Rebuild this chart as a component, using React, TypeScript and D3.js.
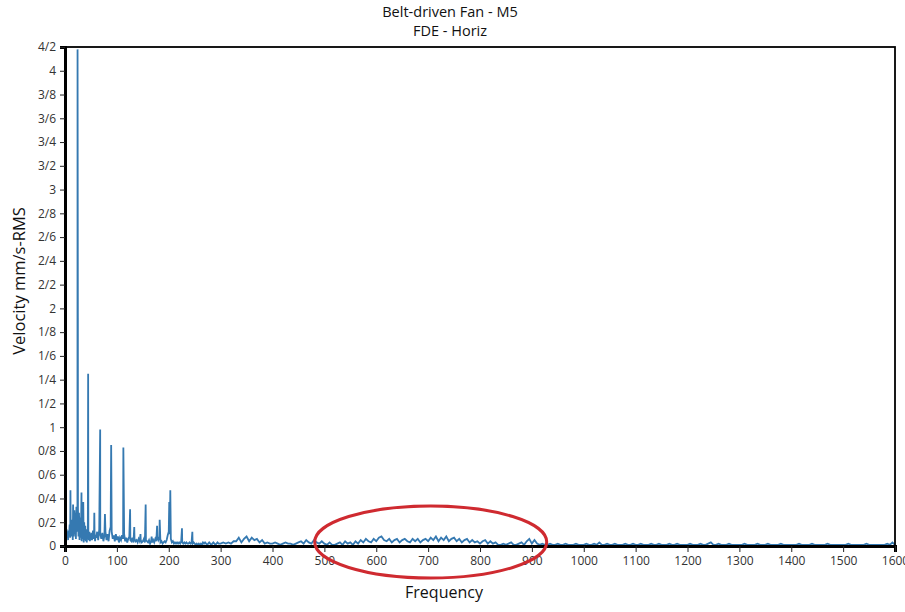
import { useEffect, useRef } from "react"
import * as d3 from "d3"

const titleLines = ["Belt-driven Fan - M5", "FDE - Horiz"]
const xAxisLabel = "Frequency"
const yAxisLabel = "Velocity mm/s-RMS"

const xTicks = [0, 100, 200, 300, 400, 500, 600, 700, 800, 900, 1000, 1100, 1200, 1300, 1400, 1500, 1600]
const yTicks = [0, 0.2, 0.4, 0.6, 0.8, 1, 1.2, 1.4, 1.6, 1.8, 2, 2.2, 2.4, 2.6, 2.8, 3, 3.2, 3.4, 3.6, 3.8, 4, 4.2]
const yTickLabels = ["0", "0/2", "0/4", "0/6", "0/8", "1", "1/2", "1/4", "1/6", "1/8", "2", "2/2", "2/4", "2/6", "2/8", "3", "3/2", "3/4", "3/6", "3/8", "4", "4/2"]

// noise floor, 0..59 Hz every 1 Hz
const lowNoise = [
  0.02, 0.12, 0.06, 0.14, 0.08, 0.11, 0.05, 0.13, 0.09, 0.18,
  0.07, 0.12, 0.15, 0.08, 0.22, 0.05, 0.26, 0.08, 0.30, 0.10,
  0.28, 0.06, 0.33, 0.12, 0.30, 0.31, 0.08, 0.28, 0.05, 0.24,
  0.07, 0.20, 0.04, 0.22, 0.06, 0.18, 0.03, 0.20, 0.05, 0.17,
  0.04, 0.14, 0.03, 0.12, 0.10, 0.10, 0.05, 0.12, 0.04, 0.09,
  0.06, 0.11, 0.05, 0.08, 0.13, 0.06, 0.10, 0.10, 0.04, 0.09,
]

// noise floor, 60..298 Hz every 2 Hz
const midNoise = [
  0.07, 0.12, 0.05, 0.14, 0.10, 0.06, 0.11, 0.04, 0.09, 0.12,
  0.05, 0.10, 0.04, 0.13, 0.16, 0.12, 0.06, 0.09, 0.04, 0.10,
  0.05, 0.08, 0.03, 0.07, 0.05, 0.09, 0.06, 0.10, 0.04, 0.07,
  0.03, 0.06, 0.08, 0.05, 0.04, 0.07, 0.03, 0.06, 0.04, 0.05,
  0.03, 0.06, 0.04, 0.05, 0.03, 0.04, 0.06, 0.03, 0.05, 0.04,
  0.03, 0.05, 0.02, 0.04, 0.03, 0.05, 0.03, 0.06, 0.04, 0.08,
  0.05, 0.07, 0.03, 0.04, 0.02, 0.03, 0.04, 0.03, 0.05, 0.09,
  0.12, 0.10, 0.06, 0.03, 0.04, 0.02, 0.03, 0.02, 0.03, 0.02,
  0.03, 0.02, 0.04, 0.03, 0.02, 0.03, 0.02, 0.03, 0.02, 0.02,
  0.03, 0.02, 0.03, 0.02, 0.03, 0.02, 0.01, 0.02, 0.01, 0.02,
  0.01, 0.02, 0.01, 0.03, 0.02, 0.03, 0.02, 0.01, 0.02, 0.03,
  0.02, 0.01, 0.02, 0.03, 0.02, 0.01, 0.02, 0.03, 0.02, 0.02,
]

// noise floor, 300..1600 Hz every 5 Hz
const highNoise = [
  0.02, 0.03, 0.02, 0.03, 0.02, 0.04, 0.04, 0.07, 0.03, 0.06, 0.08, 0.04, 0.07, 0.05, 0.06, 0.03, 0.05, 0.02, 0.03, 0.02,
  0.02, 0.03, 0.02, 0.01, 0.02, 0.03, 0.02, 0.02, 0.01, 0.02, 0.03, 0.04, 0.02, 0.05, 0.03, 0.02, 0.05, 0.03, 0.02, 0.04,
  0.02, 0.01, 0.03, 0.01, 0.01, 0.02, 0.03, 0.01, 0.04, 0.02, 0.03, 0.01, 0.04, 0.02, 0.05, 0.03, 0.06, 0.04, 0.03, 0.06,
  0.04, 0.07, 0.08, 0.05, 0.04, 0.06, 0.03, 0.05, 0.06, 0.03, 0.05, 0.06, 0.04, 0.03, 0.06, 0.04, 0.06, 0.03, 0.05, 0.06,
  0.04, 0.07, 0.05, 0.08, 0.04, 0.07, 0.05, 0.08, 0.04, 0.06, 0.07, 0.04, 0.06, 0.03, 0.05, 0.06, 0.03, 0.05, 0.03, 0.04,
  0.02, 0.04, 0.05, 0.02, 0.04, 0.02, 0.03, 0.01, 0.01, 0.02, 0.01, 0.02, 0.03, 0.01, 0.01, 0.02, 0.03, 0.01, 0.04, 0.06,
  0.02, 0.05, 0.02, 0.01, 0.02, 0.01, 0.01, 0.02, 0.01, 0.01, 0.02, 0.01, 0.01, 0.02, 0.01, 0.01, 0.01, 0.02, 0.01, 0.01,
  0.01, 0.02, 0.01, 0.01, 0.02, 0.01, 0.03, 0.01, 0.01, 0.02, 0.01, 0.01, 0.02, 0.01, 0.01, 0.01, 0.02, 0.01, 0.01, 0.02,
  0.01, 0.01, 0.02, 0.01, 0.01, 0.01, 0.02, 0.01, 0.01, 0.02, 0.01, 0.01, 0.01, 0.02, 0.01, 0.01, 0.02, 0.01, 0.01, 0.01,
  0.01, 0.02, 0.01, 0.01, 0.01, 0.02, 0.01, 0.01, 0.02, 0.03, 0.01, 0.01, 0.02, 0.01, 0.01, 0.01, 0.02, 0.01, 0.01, 0.01,
  0.01, 0.01, 0.02, 0.01, 0.01, 0.01, 0.01, 0.02, 0.01, 0.01, 0.01, 0.02, 0.01, 0.01, 0.01, 0.01, 0.02, 0.01, 0.01, 0.01,
  0.01, 0.01, 0.01, 0.02, 0.01, 0.01, 0.01, 0.01, 0.02, 0.01, 0.01, 0.01, 0.01, 0.01, 0.02, 0.01, 0.01, 0.01, 0.01, 0.01,
  0.01, 0.01, 0.02, 0.01, 0.01, 0.01, 0.01, 0.01, 0.01, 0.02, 0.01, 0.01, 0.01, 0.01, 0.01, 0.01, 0.01, 0.02, 0.01, 0.03,
  0.01,
]

// spectral peaks [Hz, mm/s]
const peaks: [number, number][] = [
  [10.5, 0.47], [15.6, 0.35], [24.2, 4.18], [24.8, 1.92], [31.8, 0.45], [35.2, 0.37],
  [44.6, 1.45], [56.5, 0.28], [67.8, 0.98], [77, 0.27], [89, 0.85], [112.5, 0.83],
  [125.5, 0.31], [133.5, 0.16], [145.5, 0.1], [155.5, 0.35], [167, 0.08], [177.5, 0.17],
  [182.5, 0.22], [201, 0.37], [203, 0.47], [225.5, 0.15], [245.5, 0.12],
]

interface Pt {
  f: number
  v: number
}

const spectrum: Pt[] = [
  ...lowNoise.map((v, i) => ({ f: i, v })),
  ...midNoise.map((v, i) => ({ f: 60 + i * 2, v })),
  ...highNoise.map((v, i) => ({ f: 300 + i * 5, v })),
  ...peaks.map(([f, v]) => ({ f, v })),
].sort((a, b) => a.f - b.f)

export default function App() {
  const svgRef = useRef<SVGSVGElement>(null)

  useEffect(() => {
    if (!svgRef.current) return
    const svg = d3.select(svgRef.current)
    svg.selectAll("*").remove()

    const width = 905
    const height = 612
    const margin = { top: 47, right: 10, bottom: 66, left: 65 }
    const innerWidth = width - margin.left - margin.right
    const innerHeight = height - margin.top - margin.bottom

    const x = d3.scaleLinear().domain([0, 1600]).range([0, innerWidth])
    const y = d3.scaleLinear().domain([0, 4.2]).range([innerHeight, 0])

    const font = "'Open Sans', 'DejaVu Sans', sans-serif"

    // Title
    titleLines.forEach((t, i) => {
      svg.append("text")
        .attr("x", margin.left + innerWidth / 2 - 30)
        .attr("y", 17 + i * 19)
        .attr("text-anchor", "middle")
        .style("font-family", font)
        .style("font-size", "14.5px")
        .style("fill", "#111")
        .text(t)
    })

    const g = svg.append("g").attr("transform", `translate(${margin.left}, ${margin.top})`)

    // Spectrum line
    const line = d3
      .line<Pt>()
      .x((d) => x(d.f))
      .y((d) => y(d.v))

    g.append("path")
      .datum(spectrum)
      .attr("fill", "none")
      .attr("stroke", "#3579b1")
      .attr("stroke-width", 1.8)
      .attr("d", line)

    // Frame
    g.append("rect")
      .attr("width", innerWidth)
      .attr("height", innerHeight)
      .attr("fill", "none")
      .attr("stroke", "#000")
      .attr("stroke-width", 1.8)

    // X axis
    const xAxis = g.append("g")
      .attr("transform", `translate(0, ${innerHeight})`)
      .call(d3.axisBottom(x).tickValues(xTicks).tickFormat(d3.format("d")).tickSize(6).tickPadding(4))
    xAxis.select(".domain").attr("stroke", "#000").attr("stroke-width", 3)
    xAxis.selectAll(".tick line").attr("stroke", "#222").attr("stroke-width", 1)
    xAxis.selectAll("text")
      .style("font-family", font)
      .style("font-size", "12px")
      .style("fill", "#333")

    // Y axis
    const yAxis = g.append("g")
      .call(
        d3.axisLeft(y)
          .tickValues(yTicks)
          .tickFormat((_, i) => yTickLabels[i])
          .tickSize(5)
          .tickPadding(4)
      )
    yAxis.select(".domain").attr("stroke", "#000").attr("stroke-width", 3)
    yAxis.selectAll(".tick line").attr("stroke", "#222").attr("stroke-width", 1)
    yAxis.selectAll("text")
      .style("font-family", font)
      .style("font-size", "12px")
      .style("fill", "#333")

    // Axis labels
    svg.append("text")
      .attr("x", margin.left + innerWidth / 2 - 36)
      .attr("y", 598)
      .attr("text-anchor", "middle")
      .style("font-family", font)
      .style("font-size", "16px")
      .style("fill", "#111")
      .text(xAxisLabel)

    svg.append("text")
      .attr("transform", "rotate(-90)")
      .attr("x", -281)
      .attr("y", 25)
      .attr("text-anchor", "middle")
      .style("font-family", font)
      .style("font-size", "16.5px")
      .style("fill", "#111")
      .text(yAxisLabel)

    // Highlight ellipse
    g.append("ellipse")
      .attr("cx", x(705))
      .attr("cy", y(0) - 4)
      .attr("rx", 116)
      .attr("ry", 36)
      .attr("fill", "none")
      .attr("stroke", "#cf2a30")
      .attr("stroke-width", 3)
  }, [])

  return (
    <div>
      <style>{`body { margin: 0; background: #fff; }`}</style>
      <svg ref={svgRef} width={905} height={612} style={{ display: "block" }} />
    </div>
  )
}
